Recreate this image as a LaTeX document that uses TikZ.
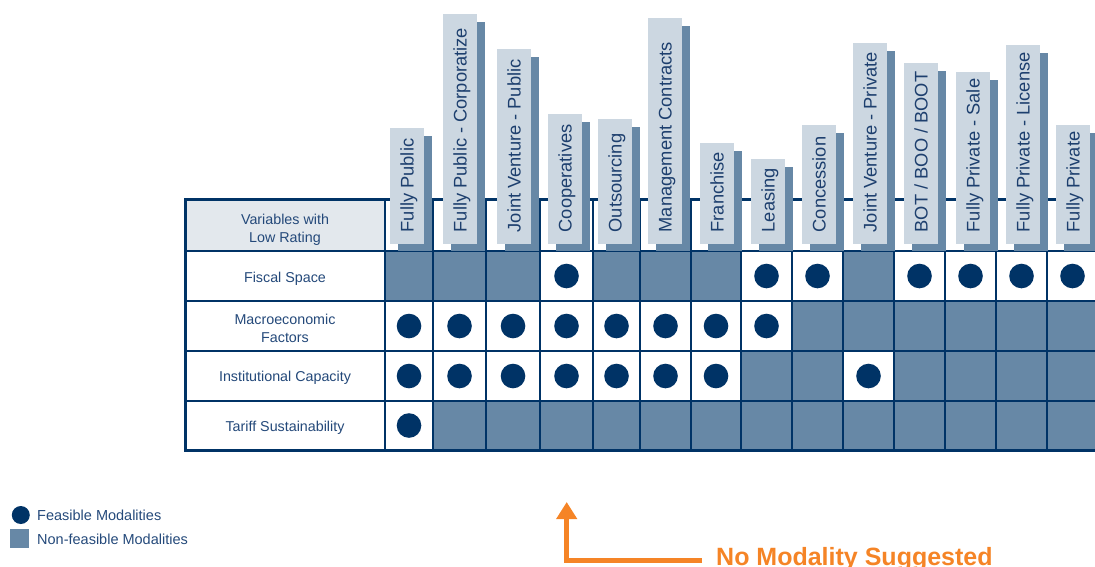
\documentclass[tikz,border=0pt]{standalone}
\usepackage{fontspec}
\setmainfont{Liberation Sans}
\usetikzlibrary{arrows.meta}
\definecolor{navy}{HTML}{003366}
\definecolor{nfcol}{HTML}{6788A6}
\definecolor{lightbox}{HTML}{CCD7E1}
\definecolor{hdrcol}{HTML}{E3E8ED}
\definecolor{txtcol}{HTML}{24497A}
\definecolor{labcol}{HTML}{1D3F6E}
\definecolor{orng}{HTML}{F58426}
\begin{document}
\begin{tikzpicture}[x=1pt,y=-1pt,
  cell/.style={draw=navy, line width=1.2pt, inner sep=0pt, outer sep=0pt},
  rowtxt/.style={inner sep=0pt, text=txtcol, align=center, font=\fontsize{14.3}{18}\selectfont},
  dot/.style={circle, fill=navy, minimum size=24.6pt, inner sep=0pt},
  shadowbox/.style={fill=nfcol},
  lbox/.style={fill=lightbox, inner sep=0pt, outer sep=0pt, anchor=north west, minimum width=34pt},
  modlab/.style={rotate=90, anchor=base west, inner sep=0pt, text=labcol, font=\fontsize{18.3}{20}\selectfont},
  legtext/.style={anchor=west, inner sep=0pt, text=txtcol, font=\fontsize{14.5}{16}\selectfont}]
\useasboundingbox (0,0) rectangle (1095,566);
\def\colx{{385,433,486,540,593,640,691,741,792,843,894,945,996,1047,1098}}
\def\rowy{{199,251,301,351,401,450}}
% label column
\node[cell, fill=hdrcol, minimum width=200pt, minimum height=52pt] (lab-0) at (285,225) {};
\node[cell, fill=white, minimum width=200pt, minimum height=50pt] (lab-1) at (285,276) {};
\node[cell, fill=white, minimum width=200pt, minimum height=50pt] (lab-2) at (285,326) {};
\node[cell, fill=white, minimum width=200pt, minimum height=50pt] (lab-3) at (285,376) {};
\node[cell, fill=white, minimum width=200pt, minimum height=49pt] (lab-4) at (285,425.5) {};
\node[rowtxt] (lt-0) at ([yshift=-5pt]lab-0.center) {Variables with\\Low Rating};
\node[rowtxt] (lt-1) at ([yshift=-3pt]lab-1.center) {Fiscal Space};
\node[rowtxt] (lt-2) at ([yshift=-2pt]lab-2.center) {Macroeconomic\\Factors};
\node[rowtxt] (lt-3) at ([yshift=-2pt]lab-3.center) {Institutional Capacity};
\node[rowtxt] (lt-4) at ([yshift=-2pt]lab-4.center) {Tariff Sustainability};
% header cells
\foreach \c in {1,...,14}{
  \pgfmathsetmacro\xl{\colx[\c-1]}
  \pgfmathsetmacro\xr{\colx[\c]}
  \node[cell, fill=white, minimum width={\xr-\xl}, minimum height=52pt] (h-\c) at ({(\xl+\xr)/2},225) {};
}
% data cells
\foreach \pat [count=\r] in {{0,0,0,1,0,0,0,1,1,0,1,1,1,1},{1,1,1,1,1,1,1,1,0,0,0,0,0,0},{1,1,1,1,1,1,1,0,0,1,0,0,0,0},{1,0,0,0,0,0,0,0,0,0,0,0,0,0}}{
  \foreach \v [count=\c] in \pat {
    \pgfmathsetmacro\xl{\colx[\c-1]}
    \pgfmathsetmacro\xr{\colx[\c]}
    \pgfmathsetmacro\yt{\rowy[\r]}
    \pgfmathsetmacro\yb{\rowy[\r+1]}
    \ifnum\v=1
      \node[cell, fill=white, minimum width={\xr-\xl}, minimum height={\yb-\yt}] (c-\r-\c) at ({(\xl+\xr)/2},{(\yt+\yb)/2}) {};
      \node[dot] (d-\r-\c) at (c-\r-\c.center) {};
    \else
      \node[cell, fill=nfcol, minimum width={\xr-\xl}, minimum height={\yb-\yt}] (c-\r-\c) at ({(\xl+\xr)/2},{(\yt+\yb)/2}) {};
    \fi
  }
}
% thick outer border
\draw[navy, line width=3pt] (h-14.north east) -- (lab-0.north west) -- (lab-4.south west) -- (c-4-14.south east);
% modality label boxes
\foreach \c/\bx/\by/\lab in {1/390/128/{Fully Public},2/443/14/{Fully Public - Corporatize},3/497/49/{Joint Venture - Public},4/548/114/{Cooperatives},5/598/119/{Outsourcing},6/648/18/{Management Contracts},7/700/143/{Franchise},8/751/159/{Leasing},9/802/125/{Concession},10/853/43/{Joint Venture - Private},11/904/63/{BOT / BOO / BOOT},12/956/72/{Fully Private - Sale},13/1006/45/{Fully Private - License},14/1056/125/{Fully Private}}{
  \fill[shadowbox] (\bx+8,\by+8) rectangle (\bx+42,250.5);
  \node[lbox, minimum height={244-\by}] (b-\c) at (\bx,\by) {};
  \node[modlab] (m-\c) at (\bx+23.5,232.5) {\lab};
}
% legend
\node[dot, minimum size=18pt] (legdot) at (20.8,515) {};
\node[legtext] (legdottxt) at (37,515) {Feasible Modalities};
\node[fill=nfcol, minimum size=19pt, inner sep=0pt] (legsq) at (19.5,538.5) {};
\node[legtext] (legsqtxt) at (37,539) {Non-feasible Modalities};
% orange note
\node[anchor=base west, inner sep=0pt, text=orng, font=\fontsize{25}{28}\selectfont\bfseries] (nms) at (716,565) {No Modality Suggested};
\coordinate (arrstart) at (702,560);
\coordinate (arrtip) at (566.7,502);
\draw[orng, line width=5pt, line join=miter, -{Triangle[width=20pt,length=17pt]}] (arrstart) -| (arrtip);
\end{tikzpicture}
\end{document}
